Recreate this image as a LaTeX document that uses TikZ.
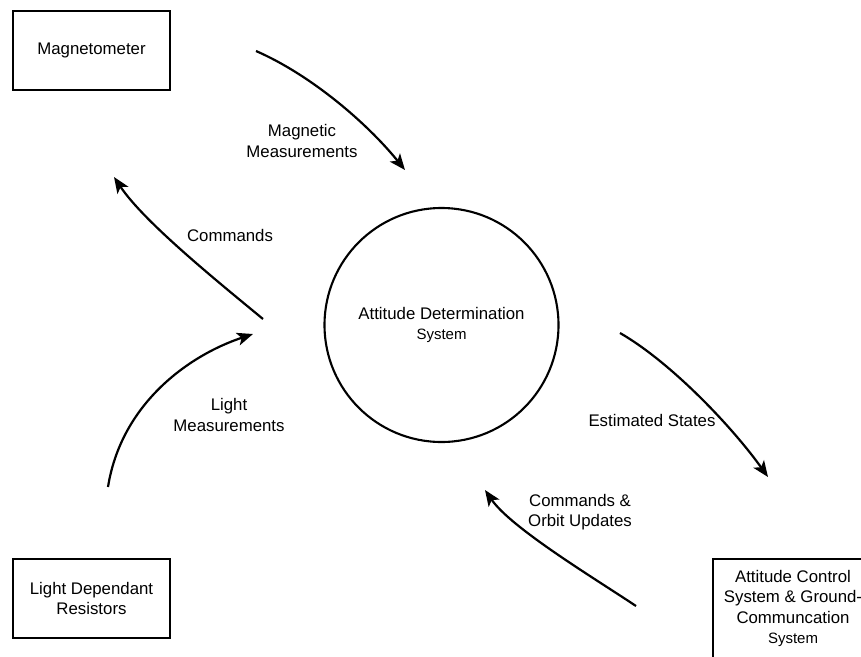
\documentclass[tikz,border=0pt]{standalone}
\usepackage{fontspec}
\setmainfont{Liberation Sans}
\usetikzlibrary{arrows.meta}
\newcommand{\smallline}[1]{{\fontsize{15}{20}\selectfont #1}}
\begin{document}
\begin{tikzpicture}[x=1pt,y=-1pt,
  txt/.style={font=\fontsize{16.8}{20.5}\selectfont, align=center, inner sep=0pt},
  entity/.style={txt, draw, line width=2.2pt, minimum width=157pt, minimum height=79pt},
  process/.style={txt, draw, circle, line width=2.1pt, minimum size=234pt},
  flow/.style={line width=2.2pt, -{Stealth[length=16pt,width=13pt,inset=4pt]}}]
\useasboundingbox (0,0) rectangle (861,656);
\clip (0,0) rectangle (861,656);

% external entities and the central process
\node[entity] (mag) at (91.5,50.5) {Magnetometer};
\node[entity] (ldr) at (91.5,598.5) {Light Dependant\\Resistors};
\node[entity, minimum width=160pt, minimum height=99pt] (acs) at (793,608.5)
  {Attitude Control\\System \& Ground-\\Communcation\\\smallline{System}};
\node[process] (ads) at (441.5,325) {Attitude Determination\\\smallline{System}};

% free ends of the data flows
\coordinate (m1) at (256,51);   \coordinate (m2) at (405,170);
\coordinate (c1) at (263,319);  \coordinate (c2) at (114,177);
\coordinate (l1) at (108,487);  \coordinate (l2) at (253,334);
\coordinate (e1) at (620,333);  \coordinate (e2) at (768,477);
\coordinate (o1) at (636,606);  \coordinate (o2) at (485,490);

\draw[flow] (m1) .. controls (311,75) and (367,123) .. (m2);
\draw[flow] (c1) .. controls (217,281) and (144,222) .. (c2);
\draw[flow] (l1) .. controls (121,405) and (187,356) .. (l2);
\draw[flow] (e1) .. controls (672,363) and (733,428) .. (e2);
\draw[flow] (o1) .. controls (594,578) and (511,528) .. (o2);

% flow labels
\node[txt] (lmag) at (302,141) {Magnetic\\Measurements};
\node[txt] (lcmd) at (230,235) {Commands};
\node[txt] (llight) at (229,415) {Light\\Measurements};
\node[txt] (lest) at (652,420) {Estimated States};
\node[txt] (lorb) at (580,512) {Commands \&\\Orbit Updates};
\end{tikzpicture}
\end{document}
